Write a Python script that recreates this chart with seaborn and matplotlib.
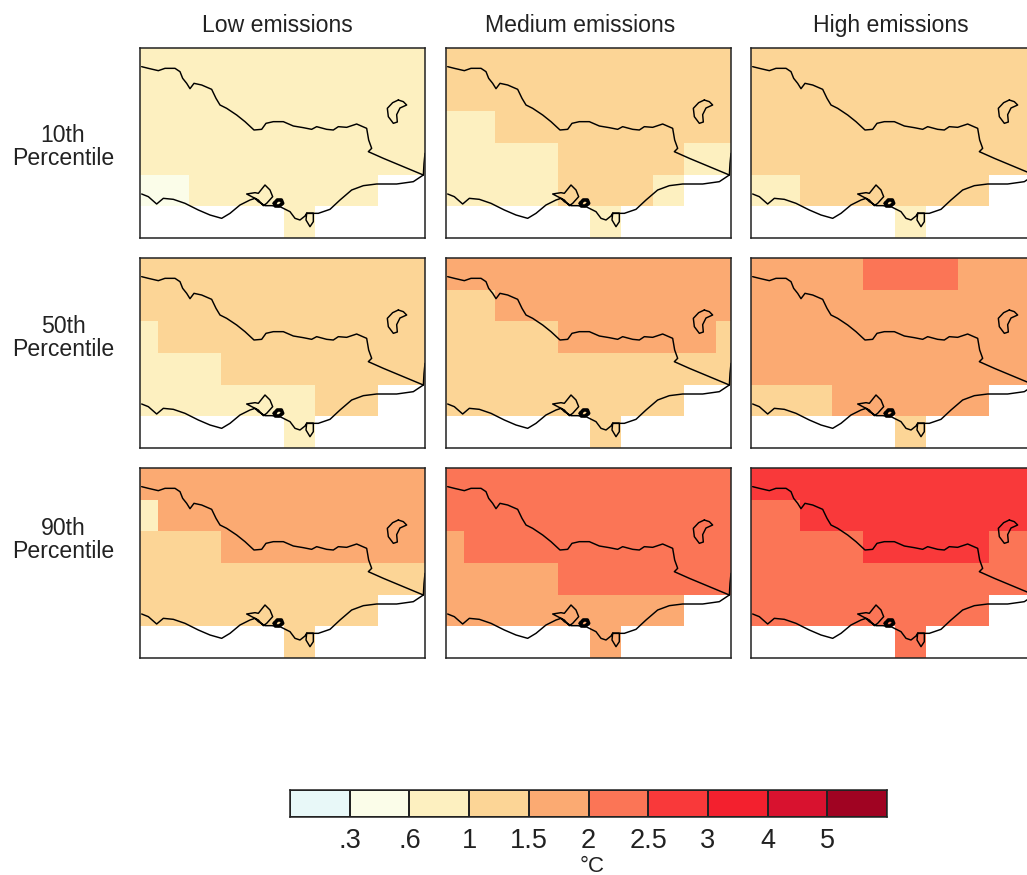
import numpy as np
import matplotlib
matplotlib.use("Agg")
import matplotlib.pyplot as plt
from matplotlib.colors import ListedColormap, BoundaryNorm
import seaborn as sns

N = np.nan

# warming in degrees C, one grid per panel (6 rows x 10 columns)
low_10 = [
    [.8, .8, .8, .8, .8, .8, .8, .8, .8, .8],
    [.8, .8, .8, .8, .8, .8, .8, .8, .8, .8],
    [.8, .8, .8, .8, .8, .8, .8, .8, .8, .8],
    [.8, .8, .8, .8, .8, .8, .8, .8, .8, .8],
    [.5, .5, .8, .8, .8, .8, .8, .8, N, N],
    [N, N, N, N, N, .8, N, N, N, N],
]
med_10 = [
    [1.2, 1.2, 1.2, 1.2, 1.2, 1.2, 1.2, 1.2, 1.2, 1.2],
    [1.2, 1.2, 1.2, 1.2, 1.2, 1.2, 1.2, 1.2, 1.2, 1.2],
    [.8, .8, 1.2, 1.2, 1.2, 1.2, 1.2, 1.2, 1.2, 1.2],
    [.8, .8, .8, .8, 1.2, 1.2, 1.2, 1.2, .8, .8],
    [.8, .8, .8, .8, 1.2, 1.2, 1.2, .8, N, N],
    [N, N, N, N, N, .8, N, N, N, N],
]
high_10 = [
    [1.2, 1.2, 1.2, 1.2, 1.2, 1.2, 1.2, 1.2, 1.2, 1.2],
    [1.2, 1.2, 1.2, 1.2, 1.2, 1.2, 1.2, 1.2, 1.2, 1.2],
    [1.2, 1.2, 1.2, 1.2, 1.2, 1.2, 1.2, 1.2, 1.2, 1.2],
    [1.2, 1.2, 1.2, 1.2, 1.2, 1.2, 1.2, 1.2, 1.2, 1.2],
    [.8, .8, 1.2, 1.2, 1.2, 1.2, 1.2, 1.2, N, N],
    [N, N, N, N, N, .8, N, N, N, N],
]
low_50 = [
    [1.2, 1.2, 1.2, 1.2, 1.2, 1.2, 1.2, 1.2, 1.2, 1.2],
    [1.2, 1.2, 1.2, 1.2, 1.2, 1.2, 1.2, 1.2, 1.2, 1.2],
    [.8, 1.2, 1.2, 1.2, 1.2, 1.2, 1.2, 1.2, 1.2, 1.2],
    [.8, .8, .8, 1.2, 1.2, 1.2, 1.2, 1.2, 1.2, 1.2],
    [.8, .8, .8, .8, .8, .8, 1.2, 1.2, N, N],
    [N, N, N, N, N, .8, N, N, N, N],
]
med_50 = [
    [1.7, 1.7, 1.7, 1.7, 1.7, 1.7, 1.7, 1.7, 1.7, 1.7],
    [1.2, 1.2, 1.7, 1.7, 1.7, 1.7, 1.7, 1.7, 1.7, 1.7],
    [1.2, 1.2, 1.2, 1.2, 1.7, 1.7, 1.7, 1.7, 1.7, 1.2],
    [1.2, 1.2, 1.2, 1.2, 1.2, 1.2, 1.2, 1.2, 1.2, 1.2],
    [1.2, 1.2, 1.2, 1.2, 1.2, 1.2, 1.2, 1.2, N, N],
    [N, N, N, N, N, 1.2, N, N, N, N],
]
high_50 = [
    [1.7, 1.7, 1.7, 1.7, 2.2, 2.2, 2.2, 1.7, 1.7, 1.7],
    [1.7, 1.7, 1.7, 1.7, 1.7, 1.7, 1.7, 1.7, 1.7, 1.7],
    [1.7, 1.7, 1.7, 1.7, 1.7, 1.7, 1.7, 1.7, 1.7, 1.7],
    [1.7, 1.7, 1.7, 1.7, 1.7, 1.7, 1.7, 1.7, 1.7, 1.7],
    [1.2, 1.2, 1.2, 1.7, 1.7, 1.7, 1.7, 1.7, N, N],
    [N, N, N, N, N, 1.2, N, N, N, N],
]
low_90 = [
    [1.7, 1.7, 1.7, 1.7, 1.7, 1.7, 1.7, 1.7, 1.7, 1.7],
    [.8, 1.7, 1.7, 1.7, 1.7, 1.7, 1.7, 1.7, 1.7, 1.7],
    [1.2, 1.2, 1.2, 1.7, 1.7, 1.7, 1.7, 1.7, 1.7, 1.7],
    [1.2, 1.2, 1.2, 1.2, 1.2, 1.2, 1.2, 1.2, 1.2, 1.2],
    [1.2, 1.2, 1.2, 1.2, 1.2, 1.2, 1.2, 1.2, N, N],
    [N, N, N, N, N, 1.2, N, N, N, N],
]
med_90 = [
    [2.2, 2.2, 2.2, 2.2, 2.2, 2.2, 2.2, 2.2, 2.2, 2.2],
    [2.2, 2.2, 2.2, 2.2, 2.2, 2.2, 2.2, 2.2, 2.2, 2.2],
    [1.7, 2.2, 2.2, 2.2, 2.2, 2.2, 2.2, 2.2, 2.2, 2.2],
    [1.7, 1.7, 1.7, 1.7, 2.2, 2.2, 2.2, 2.2, 2.2, 2.2],
    [1.7, 1.7, 1.7, 1.7, 1.7, 1.7, 1.7, 1.7, N, N],
    [N, N, N, N, N, 1.7, N, N, N, N],
]
high_90 = [
    [2.7, 2.7, 2.7, 2.7, 2.7, 2.7, 2.7, 2.7, 2.7, 2.7],
    [2.2, 2.2, 2.7, 2.7, 2.7, 2.7, 2.7, 2.7, 2.7, 2.7],
    [2.2, 2.2, 2.2, 2.2, 2.7, 2.7, 2.7, 2.7, 2.2, 2.2],
    [2.2, 2.2, 2.2, 2.2, 2.2, 2.2, 2.2, 2.2, 2.2, 2.2],
    [2.2, 2.2, 2.2, 2.2, 2.2, 2.2, 2.2, 2.2, N, N],
    [N, N, N, N, N, 2.2, N, N, N, N],
]

col_titles = ["Low emissions", "Medium emissions", "High emissions"]
row_titles = ["10th\nPercentile", "50th\nPercentile", "90th\nPercentile"]
levels = [0, .3, .6, 1, 1.5, 2, 2.5, 3, 4, 5, 6]
level_labels = [".3", ".6", "1", "1.5", "2", "2.5", "3", "4", "5"]
bar_values = [.15, .45, .8, 1.25, 1.75, 2.25, 2.75, 3.5, 4.5, 5.5]
colours = ["#e8f8f8", "#fbfde9", "#fdf0c0", "#fcd596", "#fbaa72",
           "#fb7556", "#f9393a", "#f3202e", "#d8122f", "#a00322"]

# map outlines, in map units (panel = 855 x 570)
murray_x = [5, 25, 55, 75, 105, 120, 128, 140, 150, 162, 185, 215, 228, 240, 260, 290, 315, 342,
            365, 378, 400, 430, 460, 490, 515, 530, 560, 580, 595, 620, 650, 680, 686, 695, 685, 730, 790, 850]
murray_y = [56, 61, 68, 61, 61, 71, 91, 106, 122, 106, 111, 124, 151, 171, 181, 201, 221, 246,
            244, 226, 221, 221, 234, 239, 244, 236, 244, 246, 236, 238, 228, 241, 276, 301, 311, 331, 356, 381]
coast_x = [5, 25, 50, 70, 100, 135, 175, 210, 245, 270, 300, 330, 345, 320, 345, 355, 375, 390, 398, 380, 370,
           355, 345, 355, 375, 395, 420, 430, 450, 465, 480, 495, 500, 498, 510, 520, 520, 500, 535, 570,
           600, 635, 670, 710, 770, 820, 850]
coast_y = [438, 446, 468, 451, 454, 466, 486, 501, 511, 496, 471, 456, 451, 438, 434, 436, 411, 426, 446, 466, 473,
           456, 451, 461, 473, 473, 476, 481, 491, 511, 516, 504, 496, 516, 536, 521, 496, 496, 496, 484,
           456, 426, 413, 408, 408, 401, 381]
bay_x = [403, 412, 424, 428, 418, 406, 403]
bay_y = [466, 456, 456, 466, 474, 474, 466]
lake_x = [775, 758, 742, 745, 760, 772, 770, 780, 800, 790, 775]
lake_y = [156, 164, 181, 206, 226, 222, 200, 180, 171, 161, 156]
edge_x = [850, 852, 855]
edge_y = [381, 346, 316]

grids = [[low_10, med_10, high_10], [low_50, med_50, high_50], [low_90, med_90, high_90]]
panel_left = [140, 446, 751]
panel_top = [48, 258, 468]
title_x = [277, 580, 891]
label_y = [147, 338, 540]

sns.set_theme(style="white")
plt.rcParams["font.family"] = ["Liberation Sans", "DejaVu Sans"]

W, H = 1027, 875
cmap = ListedColormap(colours)
norm = BoundaryNorm(levels, cmap.N)


def add_ax(x, y, w, h):
    return fig.add_axes([x / W, 1 - (y + h) / H, w / W, h / H])


def show_spines(ax, lw):
    for s in ax.spines.values():
        s.set_visible(True)
        s.set_color("#222222")
        s.set_linewidth(lw)


fig = plt.figure(figsize=(W / 100, H / 100), dpi=100)

for r, top in enumerate(panel_top):
    for c, left in enumerate(panel_left):
        ax = add_ax(left, top, 285, 190)
        sns.heatmap(np.array(grids[r][c], dtype=float), ax=ax, cmap=cmap, norm=norm, cbar=False,
                    xticklabels=False, yticklabels=False)
        # the grid runs past the panel on both sides
        ax.set_xlim(0.43, 9.48)
        ax.set_ylim(6, 0)
        show_spines(ax, 1.1)
        for xs, ys in [(murray_x, murray_y), (coast_x, coast_y), (lake_x, lake_y), (edge_x, edge_y)]:
            ax.plot(np.array(xs) / 855, 1 - np.array(ys) / 570, color="black", lw=1.05,
                    transform=ax.transAxes)
        ax.plot(np.array(bay_x) / 855, 1 - np.array(bay_y) / 570, color="black", lw=2.6, transform=ax.transAxes)

for c, x in enumerate(title_x):
    fig.text(x / W, 1 - 32 / H, col_titles[c], ha="center", va="baseline", fontsize=16.6, color="#222222")
for r, y in enumerate(label_y):
    fig.text(63 / W, 1 - y / H, row_titles[r], ha="center", va="center", fontsize=16.6, color="#222222",
             linespacing=1.05)

# colour key
cax = add_ax(290, 790, 597, 27)
sns.heatmap(np.array([bar_values]), ax=cax, cmap=cmap, norm=norm, cbar=False, linewidths=1.1,
            linecolor="#222222", xticklabels=False, yticklabels=False)
show_spines(cax, 1.1)
cax.set_xticks(range(1, 10))
cax.set_xticklabels(level_labels, fontsize=19.5, color="#222222")
cax.tick_params(axis="x", length=0, pad=8, bottom=True)
cax.set_yticks([])
fig.text(592 / W, 1 - 866 / H, "°C", ha="center", va="center", fontsize=16, color="#222222")

fig.savefig("out.png", dpi=100)
